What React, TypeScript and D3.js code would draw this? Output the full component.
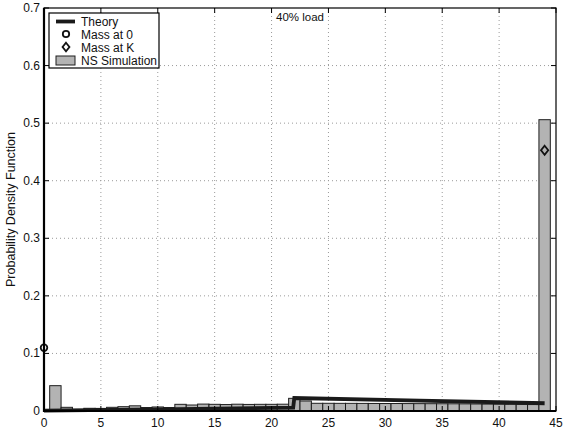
import React from "react";
import * as d3 from "d3";

// Simulated histogram, one bin per queue length k = 1..44
const binK = d3.range(1, 45);
const simValues = [
  0.044, 0.0064, 0.002, 0.0047, 0.0045, 0.0064, 0.0075, 0.009, 0.006, 0.007,
  0.006, 0.0116, 0.0104, 0.012, 0.0116, 0.0112, 0.0118, 0.0114, 0.0116, 0.0116,
  0.0118, 0.022, 0.0174, 0.0134, 0.0134, 0.0133, 0.0133, 0.0132, 0.0131, 0.013,
  0.013, 0.0129, 0.0128, 0.0127, 0.0126, 0.0125, 0.0124, 0.0122, 0.012, 0.0118,
  0.0116, 0.0114, 0.0112, 0.506,
];

// Theoretical density (continuous part)
const theoryX = [0, 10, 21.9, 22, 33, 44];
const theoryY = [0.0005, 0.0028, 0.006, 0.0225, 0.018, 0.0135];

// Point masses at the boundaries
const massZero = { x: 0, y: 0.11 };
const massK = { x: 44, y: 0.453 };

const xTicks = [0, 5, 10, 15, 20, 25, 30, 35, 40, 45];
const yTicks = [0, 0.1, 0.2, 0.3, 0.4, 0.5, 0.6, 0.7];

const legendItems = ["Theory", "Mass at 0", "Mass at K", "NS Simulation"];

const W = 563;
const H = 432;
const M = { left: 44, right: 7, top: 8, bottom: 21 };
const FONT = "'Liberation Sans', Arial, Helvetica, sans-serif";

export default function App() {
  const x = d3.scaleLinear().domain([0, 45]).range([M.left, W - M.right]);
  const y = d3.scaleLinear().domain([0, 0.7]).range([H - M.bottom, M.top]);
  const x0 = x(0), x1 = x(45), y0 = y(0), y1 = y(0.7);

  const line = d3
    .line<number>()
    .x((_, i) => x(theoryX[i]))
    .y((d) => y(d));

  const diamond = (cx: number, cy: number, r: number) =>
    `M${cx},${cy - r}L${cx + r * 0.8},${cy}L${cx},${cy + r}L${cx - r * 0.8},${cy}Z`;

  const legX = 49, legY = 13, legW = 110, legH = 55;

  return (
    <svg
      width={W}
      height={H}
      style={{ position: "absolute", left: 0, top: 0, background: "#fff" }}
      fontFamily={FONT}
    >
      {/* grid */}
      <g stroke="#9a9a9a" strokeWidth={1} strokeDasharray="1,3">
        {xTicks.slice(1, -1).map((t) => (
          <line key={"gx" + t} x1={x(t)} x2={x(t)} y1={y1} y2={y0} />
        ))}
        {yTicks.slice(1, -1).map((t) => (
          <line key={"gy" + t} x1={x0} x2={x1} y1={y(t)} y2={y(t)} />
        ))}
      </g>

      {/* histogram bars */}
      <g fill="#b3b3b3" stroke="#1e1e1e" strokeWidth={1}>
        {binK.map((k, i) => (
          <rect
            key={k}
            x={x(k - 0.5)}
            y={y(simValues[i])}
            width={x(k + 0.5) - x(k - 0.5)}
            height={y0 - y(simValues[i])}
          />
        ))}
      </g>

      {/* theory curve */}
      <path d={line(theoryY) ?? ""} fill="none" stroke="#1a1a1a" strokeWidth={3.8} />

      {/* point masses */}
      <circle cx={x(massZero.x)} cy={y(massZero.y)} r={3.3} fill="none" stroke="#111" strokeWidth={1.8} />
      <path d={diamond(x(massK.x), y(massK.y), 4.5)} fill="none" stroke="#111" strokeWidth={1.8} />

      {/* frame */}
      <rect x={x0} y={y1} width={x1 - x0} height={y0 - y1} fill="none" stroke="#000" strokeWidth={1.2} />
      <line x1={x0} x2={x0} y1={y1} y2={y0 + 1} stroke="#000" strokeWidth={2.2} />
      <line x1={x0} x2={x1} y1={y0} y2={y0} stroke="#000" strokeWidth={2} />

      {/* ticks (inward, all sides) */}
      <g stroke="#000" strokeWidth={1}>
        {xTicks.map((t) => (
          <g key={"tx" + t}>
            <line x1={x(t)} x2={x(t)} y1={y0} y2={y0 - 5} />
            <line x1={x(t)} x2={x(t)} y1={y1} y2={y1 + 5} />
          </g>
        ))}
        {yTicks.map((t) => (
          <g key={"ty" + t}>
            <line x1={x0} x2={x0 + 5} y1={y(t)} y2={y(t)} />
            <line x1={x1} x2={x1 - 5} y1={y(t)} y2={y(t)} />
          </g>
        ))}
      </g>

      {/* tick labels */}
      <g fontSize={12} fill="#111">
        {xTicks.map((t) => (
          <text key={"lx" + t} x={x(t)} y={y0 + 16} textAnchor="middle">
            {t}
          </text>
        ))}
        {yTicks.map((t) => (
          <text key={"ly" + t} x={x0 - 4} y={y(t) + 4} textAnchor="end">
            {t === 0 ? "0" : t.toFixed(1)}
          </text>
        ))}
      </g>

      {/* axis label */}
      <text
        transform={`translate(15,${(y0 + y1) / 2}) rotate(-90)`}
        textAnchor="middle"
        fontSize={12.5}
        fill="#111"
      >
        Probability Density Function
      </text>

      {/* title */}
      <text x={(x0 + x1) / 2} y={21} textAnchor="middle" fontSize={11.5} fill="#111">
        40% load
      </text>

      {/* legend */}
      <g>
        <rect x={legX} y={legY} width={legW} height={legH} fill="#fff" stroke="#000" strokeWidth={1.2} />
        <line x1={56} x2={75} y1={21.5} y2={21.5} stroke="#1a1a1a" strokeWidth={3.8} />
        <circle cx={66} cy={34} r={3.2} fill="none" stroke="#111" strokeWidth={1.8} />
        <path d={diamond(66, 47, 4.3)} fill="none" stroke="#111" strokeWidth={1.8} />
        <rect x={56} y={56} width={19} height={9} fill="#b3b3b3" stroke="#1e1e1e" strokeWidth={1} />
        {legendItems.map((s, i) => (
          <text key={s} x={81} y={26 + i * 13} fontSize={12} fill="#111">
            {s}
          </text>
        ))}
      </g>
    </svg>
  );
}
